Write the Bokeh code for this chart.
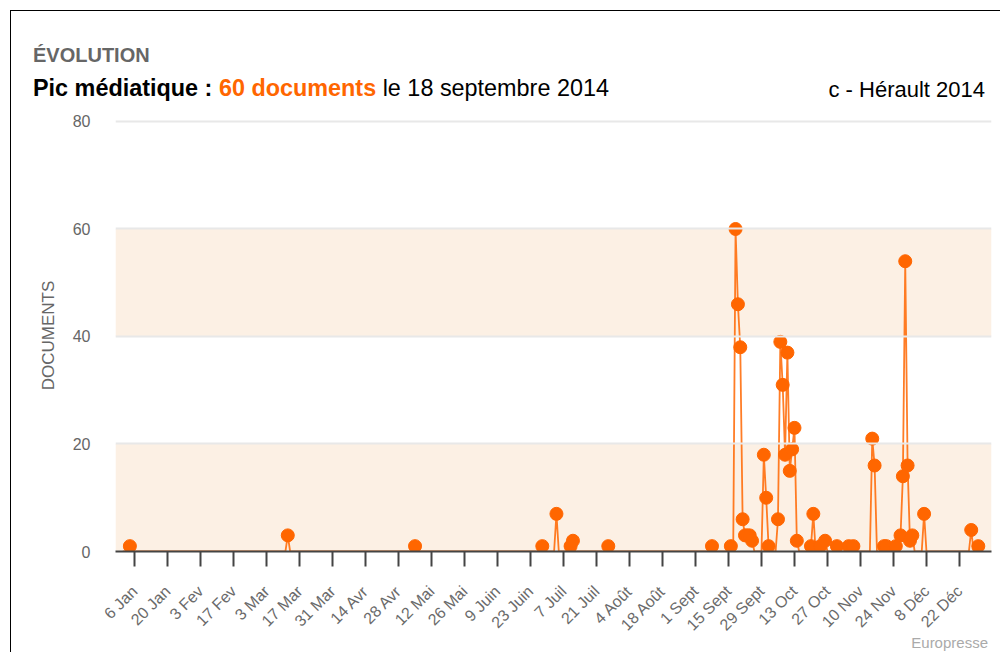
import math
import pandas as pd
from bokeh.plotting import figure
from bokeh.models import FixedTicker, BoxAnnotation, Div, ColumnDataSource
from bokeh.layouts import column
from bokeh.embed import file_html
from bokeh.resources import INLINE

# ---------------- data ----------------
year_start = "2014-01-01"
year_end = "2014-12-31"

doc_dates = ["2014-01-04", "2014-03-12", "2014-05-05", "2014-06-28", "2014-07-04",
             "2014-07-10", "2014-07-11", "2014-07-26", "2014-09-08", "2014-09-16",
             "2014-09-18", "2014-09-19", "2014-09-20", "2014-09-21", "2014-09-22",
             "2014-09-23", "2014-09-24", "2014-09-25", "2014-09-30", "2014-10-01",
             "2014-10-02", "2014-10-06", "2014-10-07", "2014-10-08", "2014-10-09",
             "2014-10-10", "2014-10-11", "2014-10-12", "2014-10-13", "2014-10-14",
             "2014-10-20", "2014-10-21", "2014-10-24", "2014-10-26", "2014-10-31",
             "2014-11-05", "2014-11-07", "2014-11-15", "2014-11-16", "2014-11-20",
             "2014-11-21", "2014-11-25", "2014-11-27", "2014-11-28", "2014-11-29",
             "2014-11-30", "2014-12-01", "2014-12-02", "2014-12-07", "2014-12-27",
             "2014-12-30"]
doc_counts = [1, 3, 1, 1, 7,
              1, 2, 1, 1, 1,
              60, 46, 38, 6, 3,
              3, 3, 2, 18, 10,
              1, 6, 39, 31, 18,
              37, 15, 19, 23, 2,
              1, 7, 1, 2, 1,
              1, 1, 21, 16, 1,
              1, 1, 3, 14, 54,
              16, 2, 3, 7, 4,
              1]

tick_dates = ["2014-01-06", "2014-01-20", "2014-02-03", "2014-02-17", "2014-03-03",
              "2014-03-17", "2014-03-31", "2014-04-14", "2014-04-28", "2014-05-12",
              "2014-05-26", "2014-06-09", "2014-06-23", "2014-07-07", "2014-07-21",
              "2014-08-04", "2014-08-18", "2014-09-01", "2014-09-15", "2014-09-29",
              "2014-10-13", "2014-10-27", "2014-11-10", "2014-11-24", "2014-12-08",
              "2014-12-22"]
tick_labels = ["6 Jan", "20 Jan", "3 Fev", "17 Fev", "3 Mar", "17 Mar", "31 Mar",
               "14 Avr", "28 Avr", "12 Mai", "26 Mai", "9 Juin", "23 Juin", "7 Juil",
               "21 Juil", "4 Août", "18 Août", "1 Sept", "15 Sept", "29 Sept", "13 Oct",
               "27 Oct", "10 Nov", "24 Nov", "8 Déc", "22 Déc"]
y_ticks = [0, 20, 40, 60, 80]

section_title = "ÉVOLUTION"
peak_prefix = "Pic médiatique :"
peak_label = "60 documents"
peak_suffix = "le 18 septembre 2014"
query_title = "c - Hérault 2014"
source_label = "Europresse"
y_label = "DOCUMENTS"

# ---------------- build ----------------
ORANGE = "#ff6600"
BAND = "#fcf0e4"
FONT = "Liberation Sans"

start = pd.Timestamp(year_start)
all_days = pd.date_range(year_start, year_end, freq="D")
series = pd.Series(0, index=all_days)
series[pd.to_datetime(doc_dates)] = doc_counts

full_src = ColumnDataSource(dict(day=(all_days - start).days.tolist(),
                                 count=series.values.tolist()))
pts_src = ColumnDataSource(dict(day=(pd.to_datetime(doc_dates) - start).days.tolist(),
                                count=doc_counts))
tick_days = [int((pd.Timestamp(d) - start).days) for d in tick_dates]

p = figure(width=989, height=541, x_range=(-3.1, 368.6),
           y_range=(y_ticks[0], y_ticks[-1] + 0.372),
           output_backend="svg", toolbar_location=None, title=None,
           min_border_left=104, min_border_right=9, min_border_top=8, min_border_bottom=101,
           outline_line_color=None, background_fill_color="white", border_fill_color="white")

for lo, hi in [(y_ticks[0], y_ticks[1]), (y_ticks[2], y_ticks[3])]:
    p.add_layout(BoxAnnotation(bottom=lo, top=hi, fill_color=BAND, fill_alpha=1.0,
                               line_color=None, level="underlay"))

p.xgrid.visible = False
p.ygrid.ticker = FixedTicker(ticks=y_ticks)
p.ygrid.grid_line_color = "#e8e8e8"
p.ygrid.grid_line_width = 2
p.ygrid.level = "glyph"

p.line(x="day", y="count", source=full_src, line_color=ORANGE, line_width=1.8, line_alpha=0.85)
p.scatter(x="day", y="count", source=pts_src, marker="circle", size=13,
          fill_color=ORANGE, line_color=ORANGE)

xa = p.xaxis[0]
xa.ticker = FixedTicker(ticks=tick_days, minor_ticks=[])
xa.major_label_overrides = dict(zip(tick_days, tick_labels))
xa.major_label_orientation = math.pi / 4
xa.major_label_text_font = FONT
xa.major_label_text_font_size = "16px"
xa.major_label_text_color = "#6a6a6a"
xa.major_label_standoff = 22
xa.major_tick_out = 15
xa.major_tick_in = 0
xa.major_tick_line_color = "#444444"
xa.major_tick_line_width = 2
xa.minor_tick_line_color = None
xa.axis_line_color = "#444444"
xa.axis_line_width = 2

ya = p.yaxis[0]
ya.ticker = FixedTicker(ticks=y_ticks, minor_ticks=[])
ya.axis_line_color = None
ya.major_tick_line_color = None
ya.minor_tick_line_color = None
ya.major_tick_out = 0
ya.major_tick_in = 0
ya.major_label_standoff = 25
ya.major_label_text_font = FONT
ya.major_label_text_font_size = "16px"
ya.major_label_text_color = "#666666"
ya.axis_label = y_label
ya.axis_label_text_font = FONT
ya.axis_label_text_font_size = "17px"
ya.axis_label_text_font_style = "normal"
ya.axis_label_text_color = "#666666"
ya.axis_label_standoff = 12

header_html = f"""
<div style="position:relative;width:989px;height:100px;font-family:'{FONT}',Arial,sans-serif;">
<div style="position:absolute;left:22px;top:34px;font-size:20px;line-height:20px;font-weight:bold;color:#666666;white-space:nowrap;">{section_title}</div>
<div style="position:absolute;left:22px;top:66px;font-size:23.4px;line-height:23px;color:#000000;white-space:nowrap;"><b>{peak_prefix}</b> <b style="color:{ORANGE}">{peak_label}</b> {peak_suffix}</div>
<div style="position:absolute;right:15px;top:68px;font-size:22px;line-height:22px;color:#000000;white-space:nowrap;">{query_title}</div>
</div>"""
header = Div(text=header_html, width=989, height=100, margin=0)

# credit line, pulled up over the empty strip under the rotated tick labels
footer_html = f"""
<div style="position:relative;width:989px;height:22px;font-family:'{FONT}',Arial,sans-serif;">
<div style="position:absolute;right:12px;top:5px;font-size:15px;line-height:15px;color:#aaaaaa;white-space:nowrap;">{source_label}</div>
</div>"""
footer = Div(text=footer_html, width=989, height=22, margin=(-22, 0, 0, 0))

p.margin = 0
layout = column(header, p, footer, spacing=0)
layout.margin = (10, 0, 0, 10)
layout.styles = {"border-left": "1px solid #000000", "border-top": "1px solid #000000"}

open("out.html", "w").write(file_html(layout, INLINE))
